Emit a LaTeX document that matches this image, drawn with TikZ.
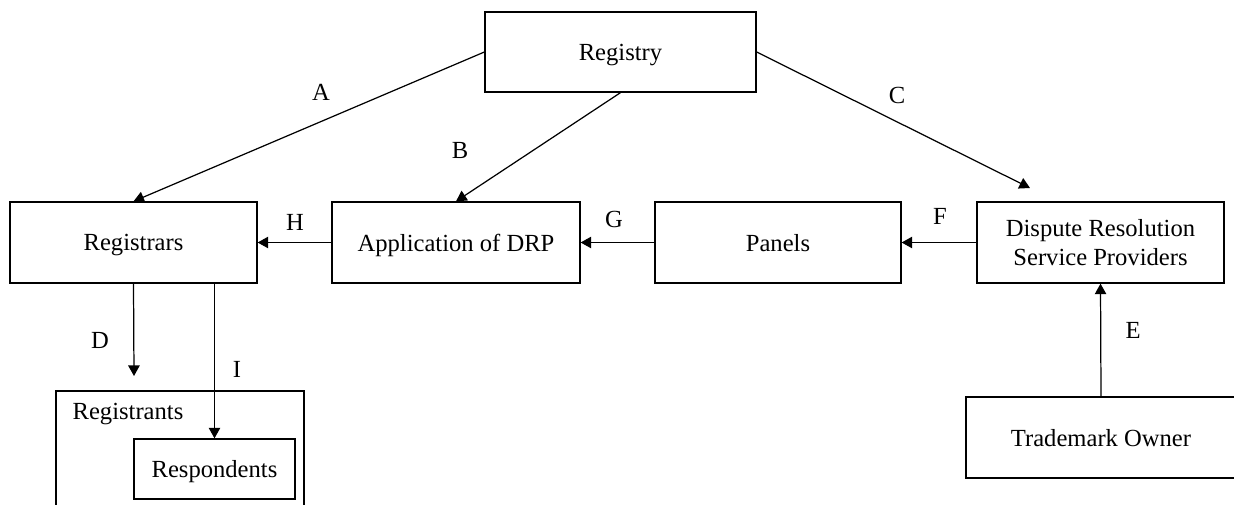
\documentclass[tikz,border=0pt]{standalone}
\usepackage{fontspec}
\setmainfont{Liberation Serif}
\usetikzlibrary{arrows.meta}
\newcommand{\flowfont}{\fontsize{14}{17}\selectfont}
\tikzset{flowbox/.style={rectangle, draw, line width=0.75pt, inner sep=2pt, text depth=0pt, align=center, font=\flowfont, minimum width=4.94cm, minimum height=1.62cm},
  flowlbl/.style={inner sep=0pt, font=\flowfont},
  flowarr/.style={line width=0.7pt, -{Triangle[length=6pt,width=6.5pt]}}}

\begin{document}
\begin{tikzpicture}[x=0.02cm, y=-0.02cm]

\useasboundingbox (0,0) rectangle (1234,504);

\node[flowbox, minimum width=5.42cm, minimum height=1.6cm] (registry) at (620.5,52) {Registry};
\node[flowbox] (registrars) at (133.5,242.5) {Registrars};
\node[flowbox, minimum width=4.96cm] (drp) at (456,242.5) {Application of DRP};
\node[flowbox, minimum width=4.92cm] (panels) at (778,242.5) {Panels};
\node[flowbox] (drsp) at (1100.5,242.5) {Dispute Resolution\\Service Providers};
\node[flowbox, minimum width=5.40cm] (owner) at (1101,437.5) {Trademark Owner};

%\node[flowbox] (registrants) at (180,450) {};
\draw[line width=0.75pt] (56,510) -- (56,391) -- (304,391) -- (304,510);
\node[flowlbl] (registrants) at (128,414) {Registrants};
\node[flowbox, minimum width=3.22cm, minimum height=1.2cm] (respondents) at (214.5,469) {Respondents};

\coordinate (dend) at (134,376);
\coordinate (cend) at (1030,188);

\draw[flowarr] (registry.west) -- (registrars.north);
\draw[flowarr] (registry.south) -- (drp.north);
\draw[flowarr] (registry.east) -- (cend);
\draw[flowarr] (registrars.south) -- (dend);
\draw[flowarr] (respondents.north |- registrars.south) -- (respondents.north);
\draw[flowarr] (owner.north) -- (drsp.south);
\draw[flowarr] (drsp.west) -- (panels.east);
\draw[flowarr] (panels.west) -- (drp.east);
\draw[flowarr] (drp.west) -- (registrars.east);

\node[flowlbl] (la) at (321,92) {A};
\node[flowlbl] (lb) at (460,150) {B};
\node[flowlbl] (lc) at (897,95) {C};
\node[flowlbl] (ld) at (100,340) {D};
\node[flowlbl] (le) at (1133,330) {E};
\node[flowlbl] (lf) at (940,216) {F};
\node[flowlbl] (lg) at (614,219) {G};
\node[flowlbl] (lh) at (295,222) {H};
\node[flowlbl] (li) at (237,369) {I};

\end{tikzpicture}
\end{document}
